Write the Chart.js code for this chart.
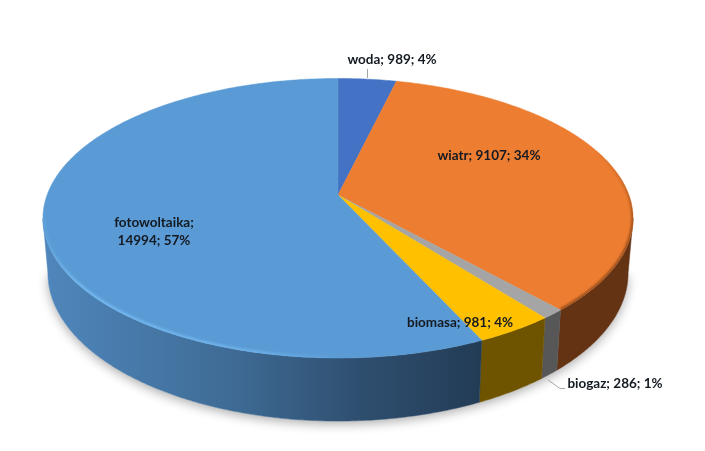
<!DOCTYPE html>
<html lang="pl">
<head>
    <meta charset="UTF-8">
    <title>Moce OZE</title>
    <style>
        body { margin: 0; background: #ffffff; }
        canvas { display: block; }
    </style>
</head>
<body>
    <canvas id="pieChart" width="705" height="451"></canvas>

    <script src="https://cdn.jsdelivr.net/npm/chart.js@4"></script>
    <script>
        const categories = ['woda', 'wiatr', 'biogaz', 'biomasa', 'fotowoltaika'];
        const values = [989, 9107, 286, 981, 14994];
        const percents = [4, 34, 1, 4, 57];

        const topColors = ['#4472c4', '#ed7d31', '#a5a5a5', '#ffc000', '#5b9bd5'];
        const sideColors = ['#2a4476', '#633314', '#575757', '#6f5400', null];

        // label anchors (centre x, middle y), one row per line of text
        const labelSpots = [
            [[392, 60]],
            [[489, 156]],
            [[615, 384]],
            [[460, 323]],
            [[154, 223], [154, 241]]
        ];

        // perspective of the tilted disc: m skews near/far, the two faces differ slightly
        const tilt = -0.1664;
        const topFace = { dy: 0, sx: 1.492, sy: 0.697 };
        const bottomFace = { dy: 53.4, sx: 1.467, sy: 0.738 };

        function project(arc, face, angle) {
            const u = Math.cos(angle);
            const v = Math.sin(angle);
            const d = 1 + tilt * v;
            return {
                x: arc.x + arc.outerRadius * face.sx * u / d,
                y: arc.y + face.dy + arc.outerRadius * face.sy * v / d
            };
        }

        function rimPoints(arc, face, from, to) {
            const steps = Math.max(2, Math.ceil(Math.abs(to - from) / 0.01));
            const pts = [];
            for (let i = 0; i <= steps; i++) {
                pts.push(project(arc, face, from + (to - from) * i / steps));
            }
            return pts;
        }

        function trace(ctx, pts) {
            pts.forEach((p, i) => i ? ctx.lineTo(p.x, p.y) : ctx.moveTo(p.x, p.y));
        }

        function slicePath(ctx, arc) {
            ctx.beginPath();
            ctx.moveTo(arc.x, arc.y);
            rimPoints(arc, topFace, arc.startAngle, arc.endAngle).forEach(p => ctx.lineTo(p.x, p.y));
            ctx.closePath();
        }

        const pie3d = {
            id: 'pie3d',
            beforeDatasetsDraw(chart) {
                const ctx = chart.ctx;
                const arcs = chart.getDatasetMeta(0).data;
                const first = arcs[0];
                // the wall is visible only on the near side of the silhouette tangents
                const tangent = Math.asin(-tilt);
                const wallFrom = tangent;
                const wallTo = Math.PI - tangent;

                // soft shadow under the whole body
                ctx.save();
                ctx.shadowColor = 'rgba(0,0,0,0.33)';
                ctx.shadowBlur = 11;
                ctx.shadowOffsetY = 3;
                ctx.fillStyle = '#ffffff';
                ctx.beginPath();
                trace(ctx, rimPoints(first, bottomFace, wallFrom, wallTo));
                ctx.closePath();
                ctx.fill();
                ctx.restore();

                const blueSide = ctx.createLinearGradient(45, 0, 480, 0);
                blueSide.addColorStop(0, '#4f86bb');
                blueSide.addColorStop(0.42, '#3f6c96');
                blueSide.addColorStop(0.72, '#2f4f70');
                blueSide.addColorStop(1, '#233c56');

                arcs.forEach((arc, i) => {
                    // angles of the library wrap past a full turn, so test both windows
                    [0, -2 * Math.PI].forEach(shift => {
                        const from = Math.max(arc.startAngle + shift, wallFrom);
                        const to = Math.min(arc.endAngle + shift, wallTo);
                        if (to <= from) return;
                        const fill = sideColors[i] || blueSide;
                        ctx.beginPath();
                        trace(ctx, rimPoints(arc, topFace, from, to));
                        rimPoints(arc, bottomFace, to, from).forEach(p => ctx.lineTo(p.x, p.y));
                        ctx.closePath();
                        ctx.fillStyle = fill;
                        ctx.strokeStyle = fill;
                        ctx.lineWidth = 0.5;
                        ctx.fill();
                        ctx.stroke();
                    });
                });

                arcs.forEach(arc => {
                    slicePath(ctx, arc);
                    ctx.fillStyle = arc.options.backgroundColor;
                    ctx.strokeStyle = arc.options.backgroundColor;
                    ctx.lineWidth = 0.5;
                    ctx.fill();
                    ctx.stroke();
                });

                // light bevel along the near rim of the big slice
                const big = arcs[4];
                const shine = ctx.createLinearGradient(43, 0, 350, 0);
                shine.addColorStop(0, 'rgba(125,195,250,0.15)');
                shine.addColorStop(0.12, 'rgba(125,195,250,0.75)');
                shine.addColorStop(0.7, 'rgba(125,195,250,0.5)');
                shine.addColorStop(1, 'rgba(125,195,250,0)');
                ctx.save();
                slicePath(ctx, big);
                ctx.clip();
                ctx.filter = 'blur(1.2px)';
                ctx.beginPath();
                trace(ctx, rimPoints(big, topFace, Math.PI * 0.42, Math.PI * 0.95));
                ctx.strokeStyle = shine;
                ctx.lineWidth = 4.5;
                ctx.stroke();
                ctx.restore();

                // dark edge where the orange slice rolls over the wall
                const wind = arcs[1];
                const edge = ctx.createLinearGradient(0, 150, 0, 230);
                edge.addColorStop(0, 'rgba(90,45,10,0)');
                edge.addColorStop(1, 'rgba(90,45,10,0.6)');
                ctx.save();
                slicePath(ctx, wind);
                ctx.clip();
                ctx.filter = 'blur(1px)';
                ctx.beginPath();
                trace(ctx, rimPoints(wind, topFace, -0.5, wind.endAngle));
                ctx.strokeStyle = edge;
                ctx.lineWidth = 3.5;
                ctx.stroke();
                ctx.restore();

                // leader lines
                ctx.strokeStyle = '#a6a6a6';
                ctx.lineWidth = 1;
                ctx.beginPath();
                ctx.moveTo(367.5, 69);
                ctx.lineTo(367.5, 78);
                ctx.moveTo(548, 380);
                ctx.lineTo(560, 388.5);
                ctx.lineTo(565, 388.5);
                ctx.stroke();

                // data labels
                ctx.font = 'bold 13.5px Lato, "Open Sans", sans-serif';
                ctx.textAlign = 'center';
                ctx.textBaseline = 'middle';
                ctx.fillStyle = '#141a22';
                categories.forEach((name, i) => {
                    const spots = labelSpots[i];
                    const rows = spots.length === 2
                        ? [name + ';', values[i] + '; ' + percents[i] + '%']
                        : [name + '; ' + values[i] + '; ' + percents[i] + '%'];
                    rows.forEach((row, r) => ctx.fillText(row, spots[r][0], spots[r][1]));
                });

                return false;
            }
        };

        new Chart(document.getElementById('pieChart').getContext('2d'), {
            type: 'pie',
            data: {
                labels: categories,
                datasets: [{
                    data: values,
                    backgroundColor: topColors,
                    borderWidth: 0
                }]
            },
            options: {
                responsive: false,
                animation: false,
                layout: { padding: { left: 0, top: 0, right: 29, bottom: 61 } },
                plugins: { legend: { display: false }, tooltip: { enabled: false } }
            },
            plugins: [pie3d]
        });
    </script>
</body>
</html>
